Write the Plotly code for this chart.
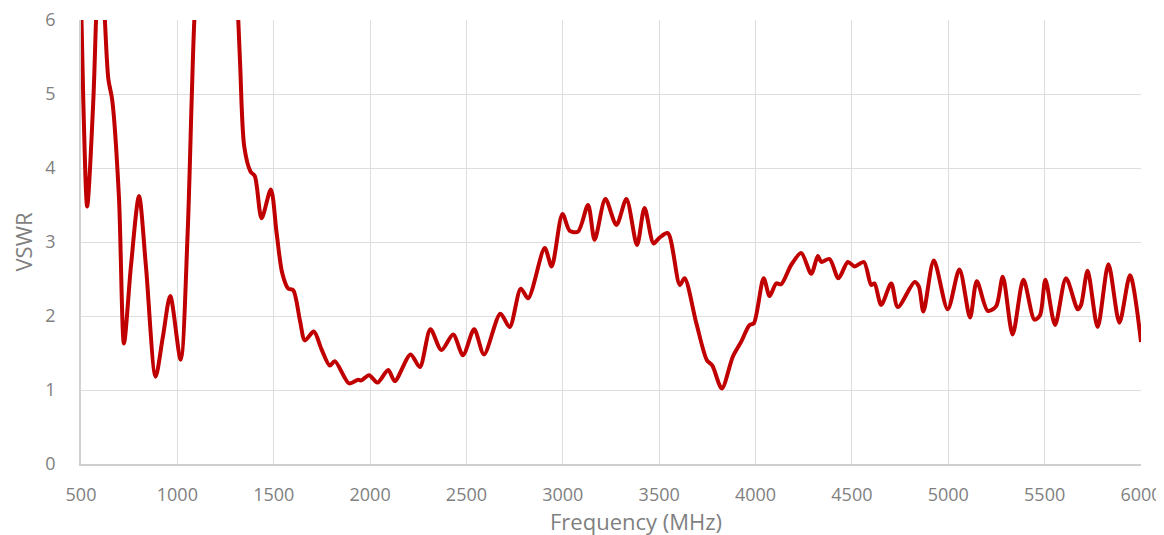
import plotly.graph_objects as go

freq_mhz = [500, 512, 532, 564, 578, 600, 624, 642, 662, 697, 723, 759, 801, 837, 887, 925, 963, 1017,
            1053, 1074, 1088, 1150, 1200, 1260, 1316, 1326, 1347, 1380, 1402, 1437, 1485, 1515, 1544,
            1575, 1601, 1636, 1662, 1708, 1748, 1791, 1817, 1891, 1938, 1955, 1995, 2038, 2094, 2128,
            2210, 2258, 2313, 2370, 2431, 2482, 2540, 2591, 2676, 2724, 2782, 2820, 2906, 2942, 2998,
            3036, 3079, 3131, 3165, 3221, 3278, 3330, 3385, 3424, 3471, 3502, 3545, 3607, 3632, 3693,
            3748, 3776, 3825, 3882, 3925, 3969, 3991, 4042, 4073, 4107, 4133, 4185, 4237, 4289, 4323,
            4341, 4384, 4430, 4479, 4514, 4562, 4600, 4617, 4652, 4704, 4738, 4825, 4847, 4871, 4925,
            4997, 5058, 5113, 5148, 5205, 5248, 5283, 5334, 5390, 5447, 5476, 5504, 5554, 5611, 5672,
            5689, 5723, 5775, 5831, 5888, 5943, 6000]
vswr = [6.3, 4.9, 3.48, 4.92, 6.0, 7.5, 6.0, 5.2, 4.92, 3.6, 1.63, 2.67, 3.62, 2.67, 1.18, 1.72, 2.27, 1.41,
        3.1, 4.9, 6.0, 9.0, 10.0, 9.0, 6.0, 5.38, 4.29, 3.95, 3.89, 3.32, 3.71, 3.12, 2.58,
        2.37, 2.35, 1.94, 1.67, 1.79, 1.55, 1.33, 1.39, 1.09, 1.14, 1.13, 1.20, 1.10, 1.27, 1.12,
        1.48, 1.31, 1.82, 1.54, 1.75, 1.47, 1.82, 1.48, 2.03, 1.85, 2.37, 2.24, 2.92, 2.67, 3.38,
        3.15, 3.14, 3.50, 3.03, 3.58, 3.23, 3.58, 2.96, 3.46, 2.98, 3.06, 3.12, 2.42, 2.51, 1.90,
        1.40, 1.33, 1.02, 1.45, 1.65, 1.88, 1.90, 2.51, 2.27, 2.44, 2.43, 2.69, 2.85, 2.57, 2.81,
        2.73, 2.77, 2.51, 2.73, 2.67, 2.73, 2.42, 2.44, 2.15, 2.44, 2.12, 2.46, 2.40, 2.06, 2.75,
        2.09, 2.63, 1.98, 2.47, 2.07, 2.13, 2.53, 1.75, 2.49, 1.95, 2.01, 2.49, 1.88, 2.51, 2.09,
        2.15, 2.61, 1.85, 2.70, 1.91, 2.55, 1.65]

x_ticks = [500, 1000, 1500, 2000, 2500, 3000, 3500, 4000, 4500, 5000, 5500, 6000]
y_ticks = [0, 1, 2, 3, 4, 5, 6]

TEXT = "#7f7f7f"
GRID = "#dedede"
FONT = "'Open Sans', Lato, sans-serif"

fig = go.Figure(go.Scatter(
    x=freq_mhz, y=vswr, mode="lines",
    line=dict(color="#C00000", width=4, shape="spline", smoothing=0.8),
    hoverinfo="x+y", showlegend=False,
))

# the page body has an 8px default margin, so the figure is offset by 8px
fig.update_layout(
    width=1156, height=527,
    margin=dict(l=73, r=23, t=12, b=71, autoexpand=False),
    paper_bgcolor="white", plot_bgcolor="white",
    font=dict(family=FONT, color=TEXT, size=18),
    annotations=[dict(
        text="Frequency (MHz)", xref="paper", yref="paper",
        x=0.5236, y=0, yshift=-57, xanchor="center", yanchor="middle",
        showarrow=False, font=dict(size=22, color=TEXT, family=FONT),
    )],
)
fig.update_xaxes(
    range=[500, 6000], tickvals=x_ticks, ticktext=[str(v) for v in x_ticks],
    showgrid=True, gridcolor=GRID, gridwidth=1.3,
    showline=True, linecolor="#cfcfcf", linewidth=1.5,
    zeroline=False, ticks="", ticklabelstandoff=14, automargin=False,
    ticklabeloverflow="allow",
    tickfont=dict(size=18, color=TEXT, family=FONT),
)
fig.update_yaxes(
    range=[0, 6], tickvals=y_ticks, ticktext=[str(v) for v in y_ticks],
    showgrid=True, gridcolor=GRID, gridwidth=1.3,
    showline=True, linecolor="#d2d2d2", linewidth=1.5,
    zeroline=False, ticks="", ticklabelstandoff=20, automargin=False,
    ticklabeloverflow="allow",
    tickfont=dict(size=18, color=TEXT, family=FONT),
    title=dict(text="VSWR", font=dict(size=22, color=TEXT, family=FONT), standoff=30),
)

fig.write_html("out.html")
